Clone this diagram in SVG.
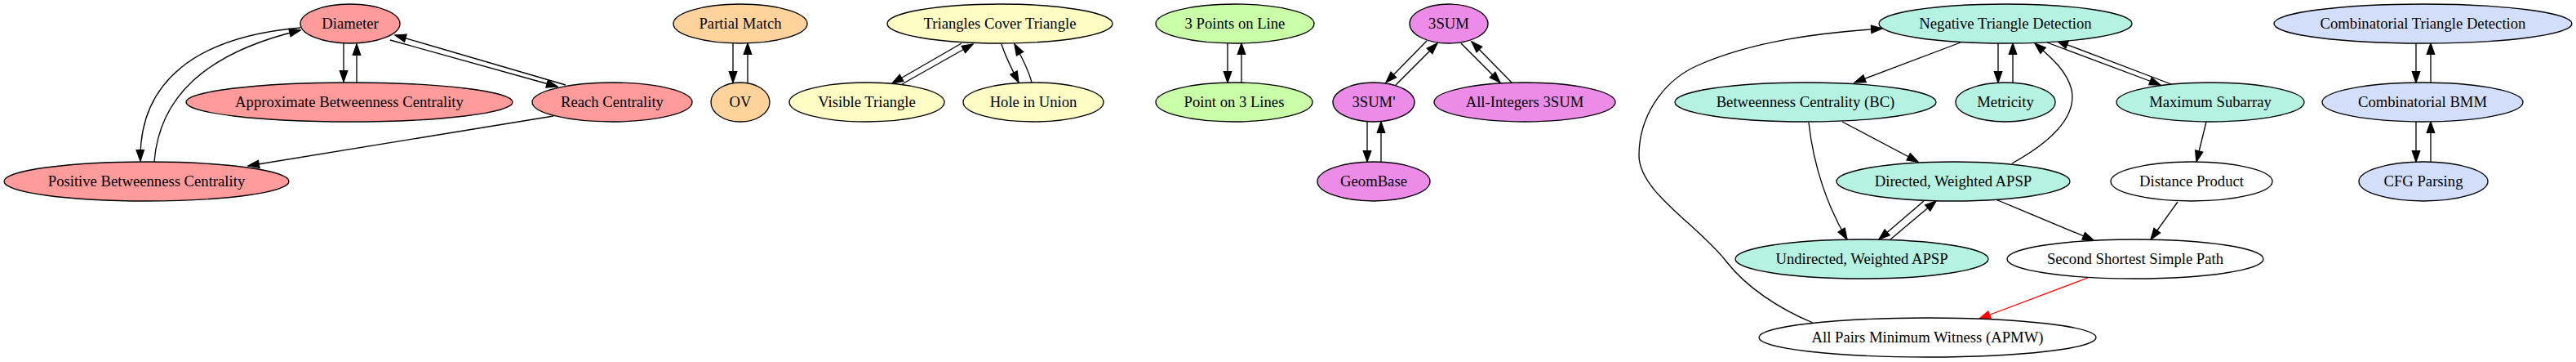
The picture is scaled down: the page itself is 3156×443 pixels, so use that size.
<svg xmlns="http://www.w3.org/2000/svg" width="3156" height="443" viewBox="0 0 3156 443">
<style>
  .n ellipse { stroke: #000; stroke-width: 1.33; }
  .n text { font-family: "Liberation Serif", "Times New Roman", serif; font-size: 18.67px; text-anchor: middle; fill: #000; }
  .red1 ellipse { fill: #ff9b9b; }
  .org ellipse { fill: #ffd39b; }
  .yel ellipse { fill: #fffcc4; }
  .grn ellipse { fill: #c9fda8; }
  .vio ellipse { fill: #ec8ce8; }
  .aqu ellipse { fill: #b5f2e2; }
  .blu ellipse { fill: #d3dffa; }
  .wht ellipse { fill: #ffffff; }
  #edges path { fill: none; stroke: #000; stroke-width: 1.33; marker-end: url(#ah); }
  #edges path.hl { stroke: #ff0000; marker-end: url(#ahr); }
</style>
<defs>
  <marker id="ah" viewBox="-1 -1 12 9" refX="10" refY="3.5" markerUnits="userSpaceOnUse" markerWidth="16" markerHeight="12" orient="auto">
    <path d="M0,0 L10,3.5 L0,7 z" fill="#000" stroke="#000" stroke-width="1"/>
  </marker>
  <marker id="ahr" viewBox="-1 -1 12 9" refX="10" refY="3.5" markerUnits="userSpaceOnUse" markerWidth="16" markerHeight="12" orient="auto">
    <path d="M0,0 L10,3.5 L0,7 z" fill="#ff0000" stroke="#ff0000" stroke-width="1"/>
  </marker>
</defs>
<rect x="0" y="0" width="3156" height="443" fill="#ffffff"/>

<g id="edges">
  <path d="M421,53 L421,100"/>
  <path d="M437,101 L437,54"/>
  <path d="M478,49 L683,106"/>
  <path d="M693,104 L484,43"/>
  <path d="M678,142 L304,203"/>
  <path d="M368,34 C240,45 170,100 172,197"/>
  <path d="M189,198 C195,120 250,65 368,37"/>
  <path d="M898,53 L898,101"/>
  <path d="M916,101 L916,53"/>
  <path d="M1178,53 L1093,102"/>
  <path d="M1105,103 L1192,54"/>
  <path d="M1227,54 C1232,70 1240,85 1248,101"/>
  <path d="M1264,101 C1260,85 1252,70 1243,54"/>
  <path d="M1504,53 L1504,101"/>
  <path d="M1521,101 L1521,53"/>
  <path d="M1748,50 L1698,101"/>
  <path d="M1710,104 L1761,53"/>
  <path d="M1790,53 L1838,101"/>
  <path d="M1853,102 L1803,51"/>
  <path d="M1675,149 L1675,198"/>
  <path d="M1692,198 L1692,149"/>
  <path d="M2402,52 L2272,101"/>
  <path d="M2448,53 L2448,101"/>
  <path d="M2466,101 L2466,53"/>
  <path d="M2508,52 L2647,104"/>
  <path d="M2660,103 L2520,50"/>
  <path d="M2465,200 C2510,175 2545,145 2538,110 C2532,85 2510,68 2493,53"/>
  <path d="M2257,149 L2350,198"/>
  <path d="M2216,150 C2222,205 2240,255 2263,293"/>
  <path d="M2357,246 L2302,293"/>
  <path d="M2316,293 L2372,246"/>
  <path d="M2445,244 L2565,294"/>
  <path d="M2668,247 L2635,293"/>
  <path d="M2703,149 L2691,198"/>
  <path class="hl" d="M2558,340 L2425,390"/>
  <path d="M2221,395 C2180,378 2140,352 2115,320 C2080,275 2008,235 2008,190 C2008,145 2035,100 2080,80 C2148,50 2230,40 2306,35"/>
  <path d="M2960,53 L2960,101"/>
  <path d="M2978,101 L2978,53"/>
  <path d="M2960,149 L2960,198"/>
  <path d="M2978,198 L2978,149"/>
</g>

<g id="diameter" class="n red1"><ellipse cx="429" cy="29" rx="61" ry="24"/><text x="429" y="35">Diameter</text></g>
<g id="approx_bc" class="n red1"><ellipse cx="428" cy="125" rx="200" ry="24"/><text x="428" y="131">Approximate Betweenness Centrality</text></g>
<g id="reach_centrality" class="n red1"><ellipse cx="750" cy="125" rx="98" ry="24"/><text x="750" y="131">Reach Centrality</text></g>
<g id="positive_bc" class="n red1"><ellipse cx="179.5" cy="222" rx="174.5" ry="24"/><text x="179.5" y="228">Positive Betweenness Centrality</text></g>

<g id="partial_match" class="n org"><ellipse cx="907" cy="29" rx="82" ry="24"/><text x="907" y="35">Partial Match</text></g>
<g id="ov" class="n org"><ellipse cx="907" cy="125" rx="36" ry="24"/><text x="907" y="131">OV</text></g>

<g id="triangles_cover_triangle" class="n yel"><ellipse cx="1225" cy="29" rx="138" ry="24"/><text x="1225" y="35">Triangles Cover Triangle</text></g>
<g id="visible_triangle" class="n yel"><ellipse cx="1062" cy="125" rx="95" ry="24"/><text x="1062" y="131">Visible Triangle</text></g>
<g id="hole_in_union" class="n yel"><ellipse cx="1266" cy="125" rx="86" ry="24"/><text x="1266" y="131">Hole in Union</text></g>

<g id="three_points_on_line" class="n grn"><ellipse cx="1513" cy="29" rx="97" ry="24"/><text x="1513" y="35">3 Points on Line</text></g>
<g id="point_on_three_lines" class="n grn"><ellipse cx="1512" cy="125" rx="96" ry="24"/><text x="1512" y="131">Point on 3 Lines</text></g>

<g id="threesum" class="n vio"><ellipse cx="1775" cy="29" rx="48" ry="24"/><text x="1775" y="35">3SUM</text></g>
<g id="threesum_prime" class="n vio"><ellipse cx="1683" cy="125" rx="50" ry="24"/><text x="1683" y="131">3SUM'</text></g>
<g id="all_integers_3sum" class="n vio"><ellipse cx="1868" cy="125" rx="111" ry="24"/><text x="1868" y="131">All-Integers 3SUM</text></g>
<g id="geombase" class="n vio"><ellipse cx="1683" cy="222" rx="69" ry="24"/><text x="1683" y="228">GeomBase</text></g>

<g id="negative_triangle_detection" class="n aqu"><ellipse cx="2457" cy="29" rx="155" ry="24"/><text x="2457" y="35">Negative Triangle Detection</text></g>
<g id="betweenness_centrality" class="n aqu"><ellipse cx="2212" cy="125" rx="160" ry="24"/><text x="2212" y="131">Betweenness Centrality (BC)</text></g>
<g id="metricity" class="n aqu"><ellipse cx="2457" cy="125" rx="61" ry="24"/><text x="2457" y="131">Metricity</text></g>
<g id="maximum_subarray" class="n aqu"><ellipse cx="2708" cy="125" rx="115" ry="24"/><text x="2708" y="131">Maximum Subarray</text></g>
<g id="directed_apsp" class="n aqu"><ellipse cx="2393" cy="222" rx="143" ry="24"/><text x="2393" y="228">Directed, Weighted APSP</text></g>
<g id="distance_product" class="n wht"><ellipse cx="2685" cy="222" rx="99" ry="24"/><text x="2685" y="228">Distance Product</text></g>
<g id="undirected_apsp" class="n aqu"><ellipse cx="2281" cy="317" rx="155" ry="24"/><text x="2281" y="323">Undirected, Weighted APSP</text></g>
<g id="second_shortest_path" class="n wht"><ellipse cx="2616" cy="317" rx="157" ry="24"/><text x="2616" y="323">Second Shortest Simple Path</text></g>
<g id="apmw" class="n wht"><ellipse cx="2361.5" cy="413" rx="206.5" ry="24"/><text x="2361.5" y="419">All Pairs Minimum Witness (APMW)</text></g>

<g id="combinatorial_triangle_detection" class="n blu"><ellipse cx="2968.5" cy="29" rx="182.5" ry="24"/><text x="2968.5" y="35">Combinatorial Triangle Detection</text></g>
<g id="combinatorial_bmm" class="n blu"><ellipse cx="2968" cy="125" rx="123" ry="24"/><text x="2968" y="131">Combinatorial BMM</text></g>
<g id="cfg_parsing" class="n blu"><ellipse cx="2969" cy="222" rx="79" ry="24"/><text x="2969" y="228">CFG Parsing</text></g>
</svg>
